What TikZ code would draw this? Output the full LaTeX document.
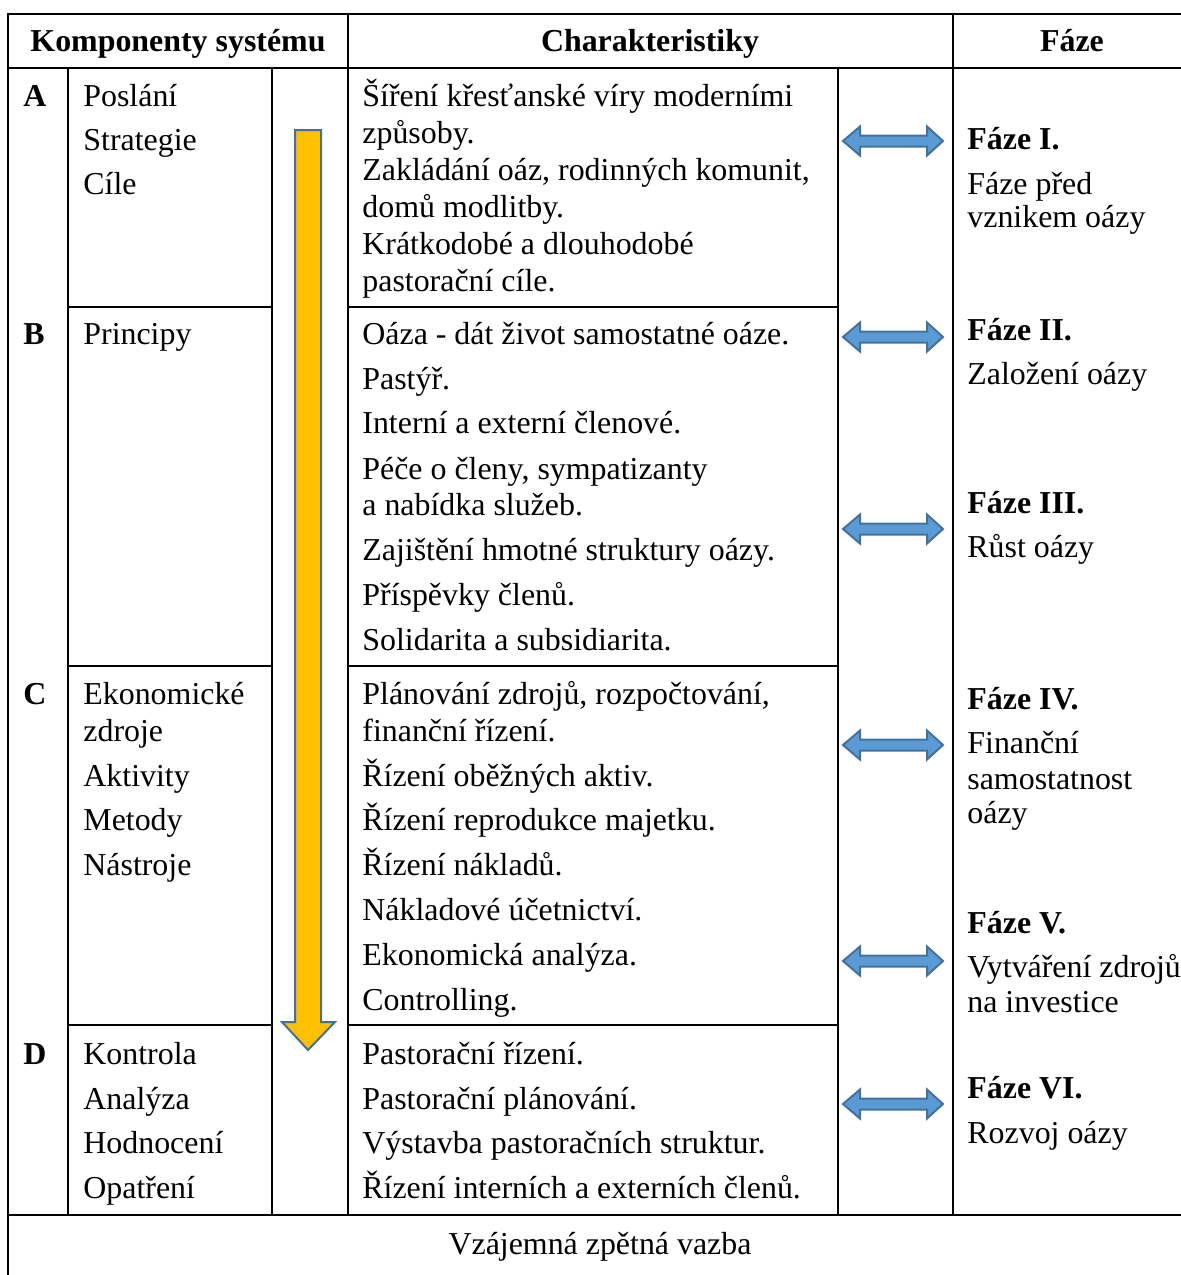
\documentclass[tikz,border=0pt]{standalone}
\usepackage{fontspec}
\setmainfont{Liberation Serif}
\newcommand\cellfont{\fontsize{15.95pt}{18pt}\selectfont}
\definecolor{gold}{HTML}{FFC000}
\definecolor{sky}{HTML}{5B9BD5}
\definecolor{edgeblue}{HTML}{41719C}
\tikzset{
  grid/.style={line width=1.2pt, black},
  txt/.style={anchor=west, inner sep=0pt, text height=0.66em, text depth=0pt, font=\cellfont, yshift=-2pt},
  bold/.style={txt, font=\cellfont\bfseries},
  head/.style={anchor=center, inner sep=0pt, text height=0.66em, text depth=0pt, font=\cellfont\bfseries, yshift=-1.5pt},
  flowarrow/.style={fill=gold, draw=edgeblue, line width=1pt, line join=miter},
  linkarrow/.style={fill=sky, draw=edgeblue, line width=1pt, line join=miter},
}
\begin{document}
\begin{tikzpicture}[x=0.5pt, y=-0.5pt]
\useasboundingbox (0,0) rectangle (1181,1275);

% table rules
\draw[grid] (8,1275) -- (8,14) -- (1181,14);
\draw[grid] (8,68) -- (1181,68);
\draw[grid] (8,1215) -- (1181,1215);
\draw[grid] (68,68) -- (68,1215);
\draw[grid] (272,68) -- (272,1215);
\draw[grid] (348,14) -- (348,1215);
\draw[grid] (838,68) -- (838,1215);
\draw[grid] (953,14) -- (953,1215);
\foreach \y in {307,666,1025}{
  \draw[grid] (68,\y) -- (272,\y);
  \draw[grid] (348,\y) -- (838,\y);
}

% header row
\node[head] (hcomp) at (178,42) {Komponenty systému};
\node[head] (hchar) at (650,42) {Charakteristiky};
\node[head] (hphase) at (1072,42) {Fáze};

% component letters
\foreach \l/\y in {A/96, B/334, C/694, D/1054}
  \node[bold] (L\l) at (23,\y) {\l};

% component names
\foreach \t [count=\i] /\y in {Poslání/96, Strategie/140, Cíle/184, Principy/334,
    Ekonomické/694, zdroje/731, Aktivity/776, Metody/820, Nástroje/865,
    Kontrola/1054, Analýza/1099, Hodnocení/1143, Opatření/1188}
  \node[txt] (n\i) at (83,\y) {\t};

% characteristics
\foreach \t [count=\i] /\y in {
    {Šíření křesťanské víry moderními}/96,
    {způsoby.}/133,
    {Zakládání oáz, rodinných komunit,}/170,
    {domů modlitby.}/207,
    {Krátkodobé a dlouhodobé}/244,
    {pastorační cíle.}/281,
    {Oáza - dát život samostatné oáze.}/334,
    {Pastýř.}/379,
    {Interní a externí členové.}/423,
    {Péče o členy, sympatizanty}/469,
    {a nabídka služeb.}/505,
    {Zajištění hmotné struktury oázy.}/550,
    {Příspěvky členů.}/595,
    {Solidarita a subsidiarita.}/640,
    {Plánování zdrojů, rozpočtování,}/694,
    {finanční řízení.}/731,
    {Řízení oběžných aktiv.}/776,
    {Řízení reprodukce majetku.}/820,
    {Řízení nákladů.}/865,
    {Nákladové účetnictví.}/910,
    {Ekonomická analýza.}/955,
    {Controlling.}/1000,
    {Pastorační řízení.}/1054,
    {Pastorační plánování.}/1099,
    {Výstavba pastoračních struktur.}/1143,
    {Řízení interních a externích členů.}/1188}
  \node[txt] (c\i) at (362,\y) {\t};

% phases
\foreach \t [count=\i] /\y in {{Fáze I.}/139, {Fáze II.}/330, {Fáze III.}/503,
    {Fáze IV.}/699, {Fáze V.}/923, {Fáze VI.}/1088}
  \node[bold] (p\i) at (967,\y) {\t};
\foreach \t [count=\i] /\y in {{Fáze před}/184, {vznikem oázy}/217,
    {Založení oázy}/374, {Růst oázy}/547,
    {Finanční}/743, {samostatnost}/779, {oázy}/813,
    {Vytváření zdrojů}/967, {na investice}/1002,
    {Rozvoj oázy}/1133}
  \node[txt] (q\i) at (967,\y) {\t};

% footer
\node[txt, anchor=center] (feedback) at (600,1244) {Vzájemná zpětná vazba};

% downward flow arrow
\draw[flowarrow] (295,130) -- (321,130) -- (321,1022) -- (335,1022)
  -- (308,1050) -- (282,1022) -- (295,1022) -- cycle;

% two-way arrows between characteristics and phases
\foreach \cy in {141,337,529,745,961,1104}
  \draw[linkarrow] (843,\cy) -- (860,\cy-14.5) -- (860,\cy-5.5) -- (927,\cy-5.5)
    -- (927,\cy-14.5) -- (943,\cy) -- (927,\cy+14.5) -- (927,\cy+5.5)
    -- (860,\cy+5.5) -- (860,\cy+14.5) -- cycle;
\end{tikzpicture}
\end{document}
